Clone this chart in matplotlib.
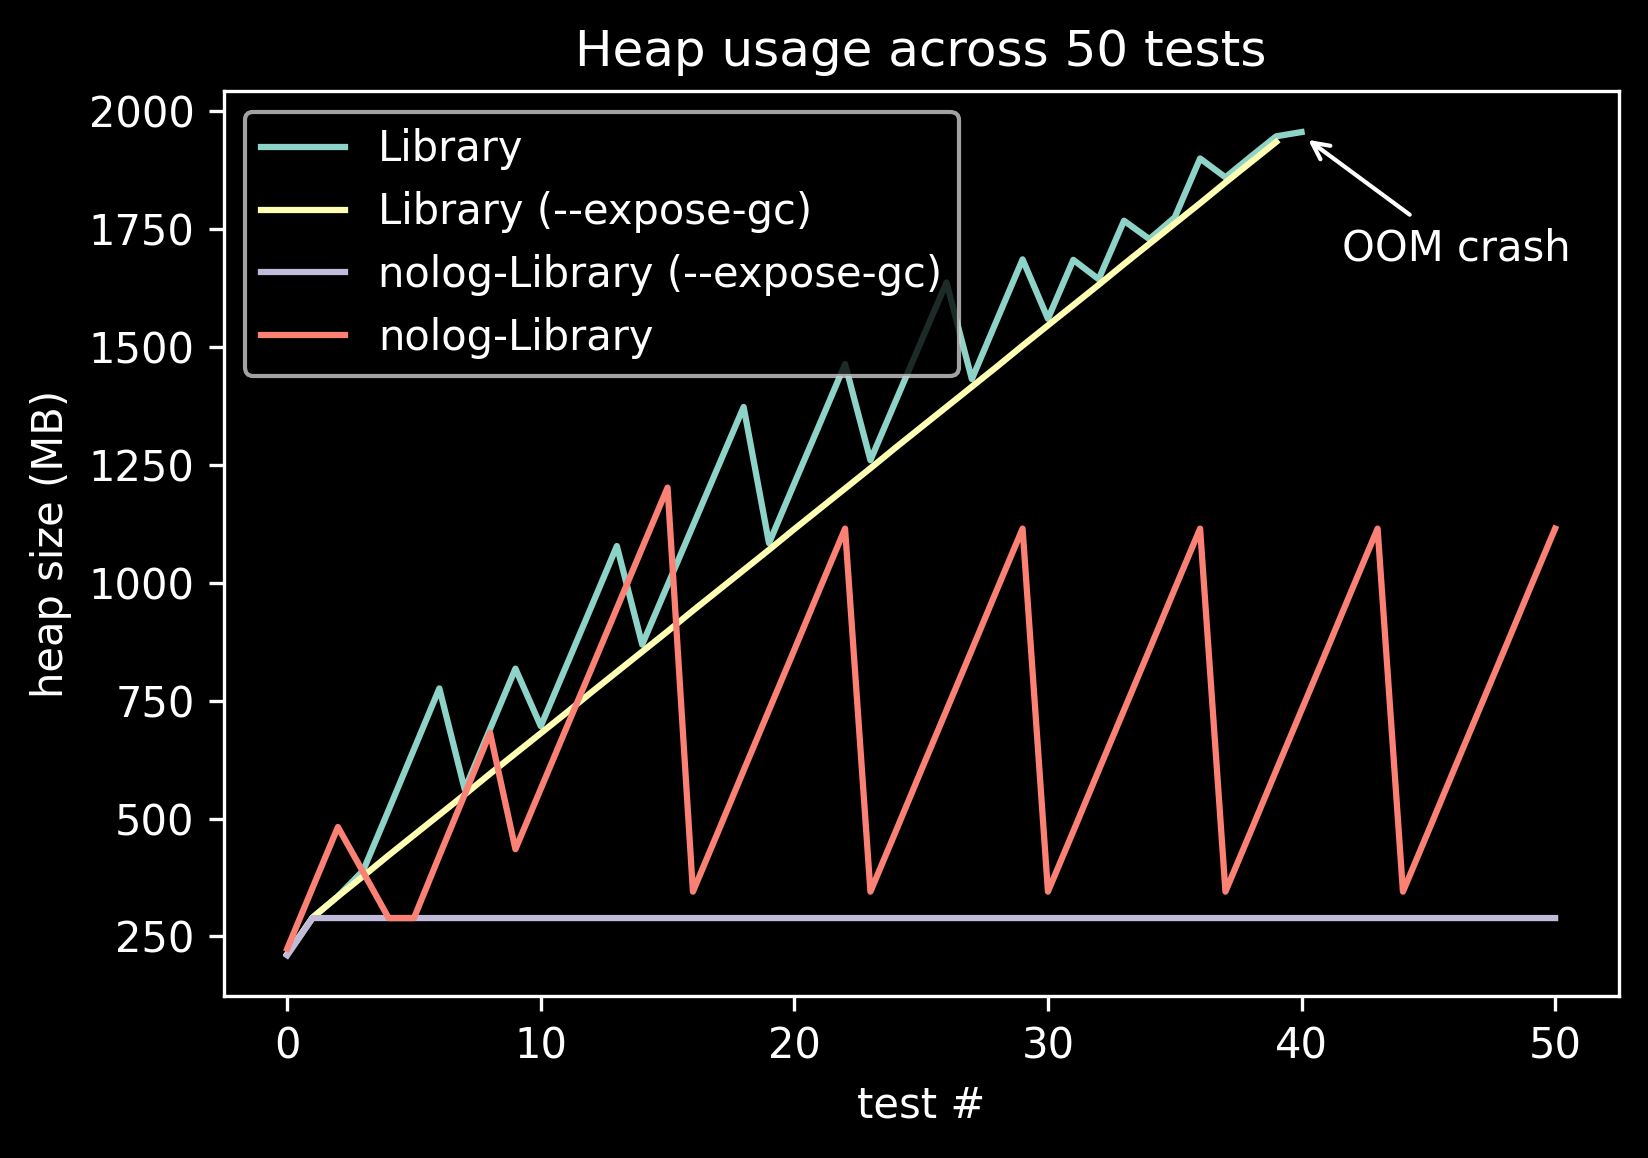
import matplotlib
matplotlib.use("Agg")
import matplotlib.pyplot as plt

plt.style.use('dark_background')

# heap size (MB) per test
tests_lib = list(range(0, 41))
heap_lib = [212, 290, 335, 390, 518, 647, 776, 562, 690, 818,
            696, 823, 950, 1078, 869, 995, 1121, 1247, 1373, 1084,
            1211, 1337, 1464, 1260, 1386, 1512, 1637, 1432, 1559, 1686,
            1560, 1685, 1644, 1768, 1729, 1775, 1900, 1860, 1904, 1947,
            1956]

tests_lib_gc = list(range(0, 40))
heap_lib_gc = [212, 290, 335, 378, 422, 465, 508, 551, 595, 638,
               681, 724, 768, 811, 854, 897, 941, 984, 1027, 1070,
               1114, 1157, 1200, 1243, 1287, 1330, 1373, 1416, 1459, 1503,
               1546, 1589, 1632, 1676, 1719, 1762, 1805, 1849, 1892, 1935]

tests_nolog = list(range(0, 51))
heap_nolog_gc = [210] + [289] * 50

heap_nolog = [224, 353, 482, 386, 289, 289, 421, 551, 682, 435,
              563, 691, 818, 946, 1074, 1202, 345, 473, 602, 730,
              858, 987, 1115, 345, 473, 602, 730, 858, 987, 1115,
              345, 473, 602, 730, 858, 987, 1115, 345, 473, 602,
              730, 858, 987, 1115, 345, 473, 602, 730, 858, 987,
              1115]

fig = plt.figure(figsize=(1648 / 300, 1158 / 300), dpi=300)
ax = fig.add_subplot(111)
fig.subplots_adjust(left=0.1358, right=0.9821, bottom=0.1395, top=0.9215)

ax.plot(tests_lib, heap_lib, label='Library')
ax.plot(tests_lib_gc, heap_lib_gc, label='Library (--expose-gc)')
ax.plot(tests_nolog, heap_nolog_gc, label='nolog-Library (--expose-gc)')
ax.plot(tests_nolog, heap_nolog, label='nolog-Library')

ax.annotate('OOM crash', xy=(40, 1950), xytext=(46.1, 1708),
            ha='center', va='center',
            arrowprops=dict(arrowstyle='->', color='white'))

ax.set_title('Heap usage across 50 tests')
ax.set_xlabel('test #')
ax.set_ylabel('heap size (MB)')
ax.legend(loc='upper left')

fig.savefig('out.png', dpi=300)
